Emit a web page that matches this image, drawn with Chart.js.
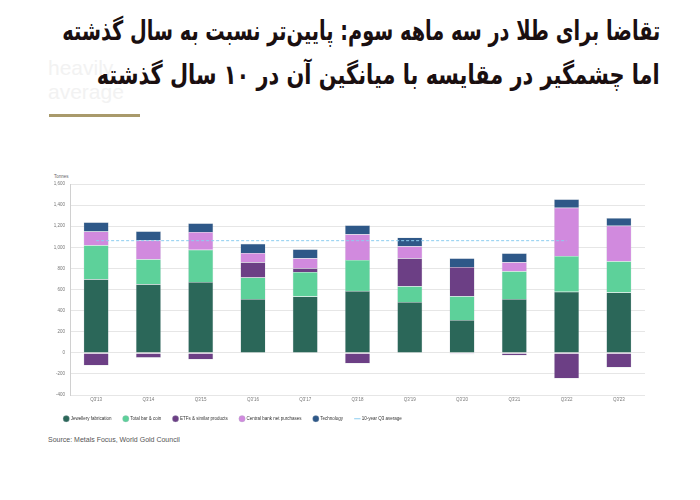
<!DOCTYPE html>
<html lang="fa">
<head>
    <meta charset="UTF-8">
    <title>Gold demand Q3</title>
    <script src="https://cdn.jsdelivr.net/npm/chart.js@4.4.8/dist/chart.umd.min.js"></script>
    <style>
        html, body {
            margin: 0;
            background: #ffffff;
            width: 700px;
            height: 500px;
            overflow: hidden;
            position: relative;
        }
        .ghost {
            position: absolute;
            left: 48px;
            font-family: "Liberation Sans", sans-serif;
            font-size: 21px;
            color: #f2f2f2;
        }
        .tline {
            position: absolute;
            right: 40px;
            white-space: nowrap;
            direction: rtl;
            font-family: "DejaVu Sans", sans-serif;
            font-weight: bold;
            font-size: 27px;
            line-height: 32px;
            color: #1a0f10;
            transform-origin: right center;
        }
        #rule {
            position: absolute;
            left: 49px;
            top: 114px;
            width: 91px;
            height: 3px;
            background: #a99a6b;
        }
        #unit {
            position: absolute;
            left: 54px;
            top: 174px;
            font-family: "Liberation Sans", sans-serif;
            font-size: 4.5px;
            color: #666;
        }
        #wrap {
            position: absolute;
            left: 45px;
            top: 174px;
            width: 606px;
            height: 257px;
        }
        #source {
            position: absolute;
            left: 48px;
            top: 436px;
            font-family: "Liberation Sans", sans-serif;
            font-size: 7px;
            color: #555;
        }
    </style>
</head>
<body>

    <div class="ghost" style="top:56px">heavily</div>
    <div class="ghost" style="top:80px">average</div>
    <div class="tline" id="t1" data-w="598" style="top:15px">تقاضا برای طلا در سه ماهه سوم: پایین‌تر نسبت به سال گذشته</div>
    <div class="tline" id="t2" data-w="563" style="top:59px">اما چشمگیر در مقایسه با میانگین آن در ۱۰ سال گذشته</div>
    <div id="rule"></div>
    <div id="unit">Tonnes</div>
    <div id="wrap"><canvas id="myChart"></canvas></div>
    <div id="source">Source: Metals Focus, World Gold Council</div>

<script>

    const quarters = ["Q3'13", "Q3'14", "Q3'15", "Q3'16", "Q3'17", "Q3'18", "Q3'19", "Q3'20", "Q3'21", "Q3'22", "Q3'23"]

    const jewellery = [698, 650, 672, 511, 533, 587, 483, 312, 511, 578, 571]
    const barCoin = [322, 237, 306, 202, 234, 294, 149, 225, 262, 341, 297]
    const etfs = [-120, -45, -63, 146, 35, -101, 265, 277, -25, -243, -139]
    const centralBanks = [129, 180, 168, 88, 95, 243, 113, -12, 86, 457, 337]
    const technology = [89, 85, 82, 88, 85, 85, 82, 83, 85, 79, 73]
    const tenYearAvg = [1063, 1063, 1063, 1063, 1063, 1063, 1063, 1063, 1063, 1063, null]

    // squeeze the title lines to the width they take in the picture
    document.querySelectorAll('.tline').forEach(el => {
        const w = el.getBoundingClientRect().width
        el.style.transform = 'scaleX(' + (parseFloat(el.dataset.w) / w) + ')'
    })

    const tickFont = { family: 'Liberation Sans', size: 4.5 }

    const bar = (label, data, color) => ({
        type: 'bar',
        label: label,
        data: data,
        backgroundColor: color,
        borderColor: 'rgba(170,180,190,0.6)',
        borderWidth: 0.5,
        barPercentage: 0.48,
        categoryPercentage: 1,
        stack: 'demand',
    })

    const ctx = document.getElementById('myChart')
    const chart = new Chart(ctx, {
        data: {
            labels: quarters,
            datasets: [
                bar('Jewellery fabrication', jewellery, '#2b6759'),
                bar('Total bar & coin', barCoin, '#5dd19a'),
                bar('ETFs & similar products', etfs, '#6c3f85'),
                bar('Central bank net purchases', centralBanks, '#d18ade'),
                bar('Technology', technology, '#2e5888'),
                {
                    type: 'line',
                    label: '10-year Q3 average',
                    data: tenYearAvg,
                    borderColor: '#8ccdf0',
                    borderWidth: 1,
                    borderDash: [3, 2],
                    pointRadius: 0,
                    pointStyle: 'line',
                    stack: 'avg',
                    order: -1,
                }
            ]
        },
        options: {
            responsive: true,
            maintainAspectRatio: false,
            animation: false,
            layout: { padding: { top: 10, left: 7, right: 6 } },
            scales: {
                x: {
                    stacked: true,
                    grid: { display: false, drawTicks: false },
                    border: { display: false },
                    ticks: { font: tickFont, color: '#777', padding: 2 }
                },
                y: {
                    stacked: true,
                    min: -400,
                    max: 1600,
                    afterFit: s => { s.width = 18 },
                    ticks: { stepSize: 200, font: tickFont, color: '#777', padding: 5 },
                    grid: { color: '#e6e6e6', lineWidth: 1, drawTicks: false },
                    border: { color: '#d0d0d0' }
                }
            },
            plugins: {
                legend: {
                    position: 'bottom',
                    align: 'start',
                    labels: {
                        usePointStyle: true,
                        boxWidth: 5,
                        boxHeight: 5,
                        padding: 12,
                        color: '#333',
                        font: { family: 'Liberation Sans', size: 4.5 },
                        sort: (a, b) => a.datasetIndex - b.datasetIndex
                    }
                },
                tooltip: { enabled: false }
            }
        }
    })

</script>
</body>
</html>
